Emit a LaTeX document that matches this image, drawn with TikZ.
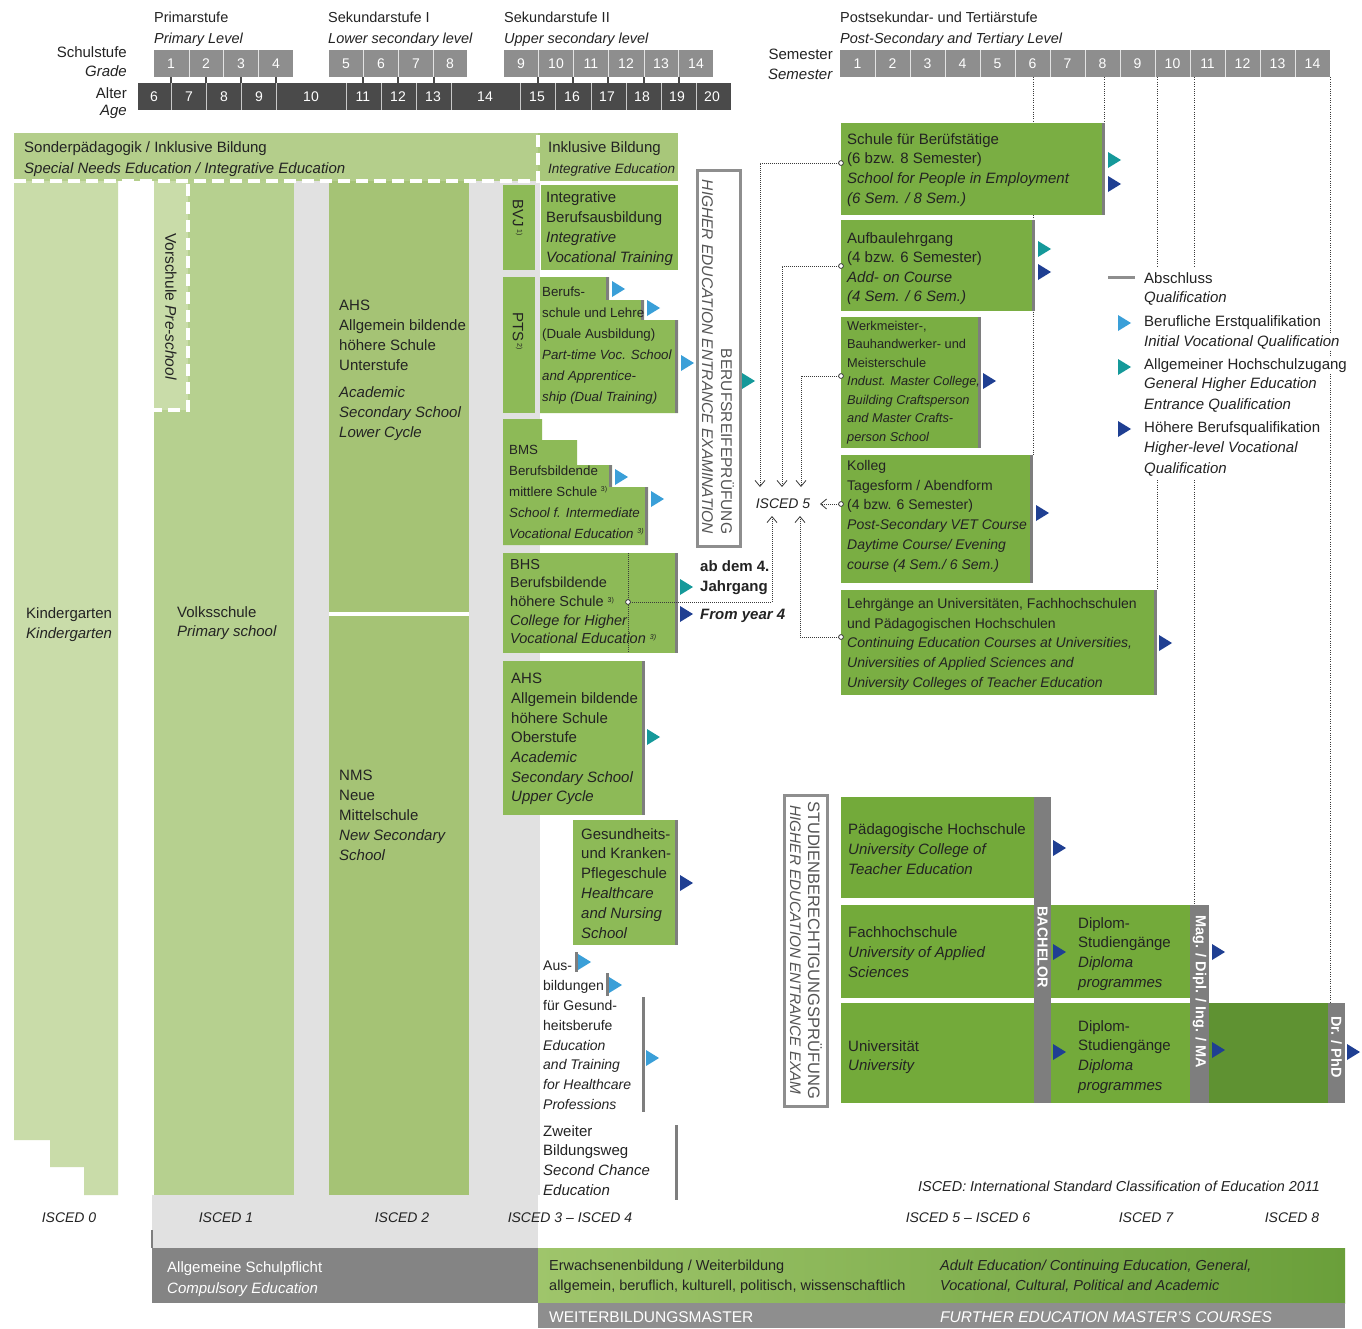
\documentclass[tikz,border=0pt]{standalone}
\usepackage{fontspec}
\setmainfont{Liberation Sans}
\usetikzlibrary{arrows.meta}
\definecolor{ink}{HTML}{232323}
\definecolor{lgray}{HTML}{E1E1E1}
\definecolor{kg}{HTML}{C9DCA9}
\definecolor{vs}{HTML}{B6D08F}
\definecolor{ahs}{HTML}{A5C375}
\definecolor{band}{HTML}{B4CE8B}
\definecolor{inkl}{HTML}{A8C77A}
\definecolor{us}{HTML}{8DBA57}
\definecolor{ps}{HTML}{7AAE43}
\definecolor{te}{HTML}{73AA3A}
\definecolor{drc}{HTML}{5F9232}
\definecolor{gb}{HTML}{7E7E7E}
\definecolor{hdr}{HTML}{8E8E8E}
\definecolor{agec}{HTML}{4A4A4A}
\definecolor{lb}{HTML}{3A9FD8}
\definecolor{tl}{HTML}{15999A}
\definecolor{db}{HTML}{1F3F92}
\definecolor{dotc}{HTML}{3A3A3A}
\definecolor{brp}{HTML}{555555}
\definecolor{adl}{HTML}{9FC56B}
\definecolor{adr}{HTML}{6A9F3A}
\newcommand\fsz[2]{\fontsize{#1}{#2}\selectfont}
\newcommand\fnm[1]{\raisebox{4.5pt}{\fontsize{7}{7}\selectfont #1}}
\newcommand\tri[3]{\fill[#3] (#1,#2-8) -- ++(13,8) -- ++(-13,8) -- cycle;}
\begin{document}
\begin{tikzpicture}[x=1pt,y=-1pt,
  tx/.style={anchor=north west,inner sep=0pt,align=left,text=ink,execute at begin node={\rule{0pt}{.73em}}},
  rt/.style={anchor=east,inner sep=0pt,text=ink,font=\fsz{15}{18}},
  wn/.style={inner sep=0pt,text=white,font=\fsz{14}{16}},
  lgd/.style={anchor=west,inner sep=1pt,fill=white,text=ink,font=\fsz{15}{18}},
  isc/.style={inner sep=0pt,text=ink,font=\fsz{14}{16}\itshape},
  dl/.style={draw=dotc,line width=1pt,dash pattern=on 1pt off 1.3pt},
  con/.style={draw=dotc,line width=0.9pt,dash pattern=on 1pt off 1pt},
  arw/.style={-{Straight Barb[length=6pt,width=10pt,line width=0.8pt]}},
  rot/.style={rotate=-90,anchor=west,inner sep=0pt},
  ring/.style={draw=dotc,fill=white,line width=0.8pt}
]
\useasboundingbox (0,0) rectangle (1362,1328);
\fill[white] (0,0) rectangle (1362,1328);

% ---------- header ----------
\node[rt] (lsch) at (127,52) {Schulstufe};
\node[rt] (lgra) at (127,71) {\textit{Grade}};
\node[rt] (lalt) at (127,93) {Alter};
\node[rt] (lage) at (127,112) {\textit{Age}};
\node[tx,font=\fsz{14.5}{21}] (hprim) at (154,12) {Primarstufe\\\textit{Primary Level}};
\node[tx,font=\fsz{14.5}{21}] (hsek1) at (328,12) {Sekundarstufe I\\\textit{Lower secondary level}};
\node[tx,font=\fsz{14.5}{21}] (hsek2) at (504,12) {Sekundarstufe II\\\textit{Upper secondary level}};
\node[tx,font=\fsz{14.5}{21}] (hpost) at (840,12) {Postsekundar- und Tertiärstufe\\\textit{Post-Secondary and Tertiary Level}};

\fill[hdr] (154,50) rectangle (293,77);
\fill[hdr] (329,50) rectangle (467,77);
\fill[hdr] (504,50) rectangle (713,77);
\foreach \x in {189,223,258,363,398,433,538,573,608,644,678}
  \draw[white!75!hdr,line width=0.8pt] (\x,50) -- (\x,77);
\foreach \x in {171,206,241,276,363,398,434,538,573,608,644,679}
  \draw[agec,line width=1.2pt] (\x,77) -- (\x,83);
\fill[agec] (138,83) rectangle (731,110);
\foreach \x in {171,206,241,276,346,381,416,451,520,555,591,626,661,696}
  \draw[white!70!agec,line width=0.8pt] (\x,83) -- (\x,110);
\foreach \x/\n in {171/1,206/2,241/3,276/4,346/5,381/6,416/7,450/8,521/9,556/10,591/11,626/12,661/13,696/14}
  \node[wn] (g\n) at (\x,64) {\n};
\foreach \x/\n in {154/6,189/7,224/8,259/9,311/10,363/11,398/12,433/13,485/14,537/15,572/16,607/17,642/18,677/19,712/20}
  \node[wn] (a\n) at (\x,97) {\n};

\node[rt] (lsem) at (833,54) {Semester};
\node[rt] (lsemi) at (833,74) {\textit{Semester}};
\fill[hdr] (840,50) rectangle (1330,77);
\foreach \k in {1,...,13}
  \draw[white!75!hdr,line width=0.8pt] ({840+35*\k},50) -- ({840+35*\k},77);
\foreach \n in {1,...,14}
  \node[wn] (s\n) at ({822.5+35*\n},64) {\n};

% semester dotted guide lines
\draw[dl] (1033,77) -- (1033,455);
\draw[dl] (1104,77) -- (1104,123);
\draw[dl] (1157,77) -- (1157,267);
\draw[dl] (1157,480) -- (1157,590);
\draw[dl] (1194,77) -- (1194,267);
\draw[dl] (1194,480) -- (1194,905);
\draw[dl] (1330,77) -- (1330,1003);

% ---------- left columns ----------
\fill[lgray] (294,181) rectangle (329,1195);
\fill[lgray] (469,181) rectangle (540,1195);
\fill[lgray] (152,1195) rectangle (538,1248);
\fill[kg] (14,181) -- (118,181) -- (118,1195) -- (84,1195) -- (84,1167) -- (50,1167) -- (50,1140) -- (14,1140) -- cycle;
\fill[vs] (154,181) rectangle (294,1195);
\fill[kg] (154,181) rectangle (188,410);
\fill[ahs] (329,181) rectangle (469,612);
\fill[ahs] (329,616) rectangle (469,1195);
\fill[band] (14,133) rectangle (538,181);
\fill[inkl] (538,133) rectangle (678,181);
\draw[white,line width=4pt,dash pattern=on 12pt off 6pt] (14,181) -- (538,181) -- (538,133);
\draw[white,line width=4pt,dash pattern=on 12pt off 6pt] (188,184) -- (188,410) -- (154,410);

% ---------- upper secondary ----------
\fill[us] (503,185) rectangle (535,270);
\fill[us] (541,185) rectangle (678,270);
\fill[us] (503,277) rectangle (535,413);
\fill[us] (540,277) -- (609,277) -- (609,300) -- (644,300) -- (644,320) -- (678,320) -- (678,413) -- (540,413) -- cycle;
\fill[gb] (606,277) rectangle (609,300);
\fill[gb] (641,300) rectangle (644,320);
\fill[gb] (675,320) rectangle (678,413);
\fill[us] (503,419) -- (542,419) -- (542,440) -- (577,440) -- (577,465) -- (612,465) -- (612,487) -- (648,487) -- (648,545) -- (503,545) -- cycle;
\fill[gb] (609,465) rectangle (612,487);
\fill[gb] (645,487) rectangle (648,545);
\fill[us] (503,553) rectangle (678,653);
\fill[gb] (675,553) rectangle (678,653);
\fill[us] (503,661) rectangle (645,815);
\fill[gb] (642,661) rectangle (645,815);
\fill[us] (573,820) rectangle (678,945);
\fill[gb] (675,820) rectangle (678,945);
\fill[gb] (575,952) rectangle (578,972);
\fill[gb] (606,973) rectangle (609,996);
\fill[gb] (642,997) rectangle (645,1112);
\fill[gb] (675,1125) rectangle (678,1200);

% exam boxes
\draw[hdr,line width=3pt,fill=white] (697,170) rectangle (740,546);
\node[rotate=-90,align=right,inner sep=0pt,text=brp,font=\fsz{15.5}{19}] (brpT) at (718,357)
  {BERUFSREIFEPRÜFUNG\\\textit{HIGHER EDUCATION ENTRANCE EXAMINATION}};
\draw[hdr,line width=3pt,fill=white] (784,795) rectangle (827,1106);
\node[rotate=-90,align=center,inner sep=0pt,text=brp,font=\fsz{15.3}{18}] (stuT) at (806,950)
  {{\fsz{16.5}{18}STUDIENBERECHTIGUNGSPRÜFUNG}\\\textit{HIGHER EDUCATION ENTRANCE EXAM}};

% ---------- post-secondary ----------
\fill[ps] (841,123) rectangle (1105,215);
\fill[gb] (1102,123) rectangle (1105,215);
\fill[ps] (841,220) rectangle (1035,311);
\fill[gb] (1032,220) rectangle (1035,311);
\fill[ps] (841,317) rectangle (981,448);
\fill[gb] (978,317) rectangle (981,448);
\fill[ps] (841,455) rectangle (1033,583);
\fill[gb] (1030,455) rectangle (1033,583);
\fill[ps] (841,590) rectangle (1157,695);
\fill[gb] (1154,590) rectangle (1157,695);

% ---------- tertiary ----------
\fill[te] (841,797) rectangle (1034,898);
\fill[te] (841,905) rectangle (1034,998);
\fill[te] (841,1003) rectangle (1034,1103);
\fill[gb] (1034,797) rectangle (1051,1103);
\fill[te] (1051,905) rectangle (1190,998);
\fill[te] (1051,1003) rectangle (1190,1103);
\fill[gb] (1190,905) rectangle (1209,1103);
\fill[drc] (1209,1003) rectangle (1328,1103);
\fill[gb] (1328,1003) rectangle (1345,1103);
\node[rot,text=white,font=\bfseries\fsz{14.5}{16}] (bach) at (1042.5,906) {BACHELOR};
\node[rot,text=white,font=\bfseries\fsz{14.5}{16}] (mag) at (1199.5,915) {Mag. / Dipl. / Ing. / MA};
\node[rot,text=white,font=\bfseries\fsz{14.5}{16}] (drphd) at (1336.5,1016) {Dr. / PhD};

% ---------- connectors ----------
\coordinate (sfbL) at (841,163);
\coordinate (aufL) at (841,266);
\coordinate (werL) at (841,376);
\coordinate (kolL) at (841,504);
\coordinate (lehL) at (841,637);
\coordinate (bhsP) at (628,602);
\coordinate (bhsT) at (628,553);
\coordinate (bhsB) at (628,653);
\coordinate (isA) at (760,487);
\coordinate (isB) at (782,487);
\coordinate (isC) at (801,487);
\coordinate (isD) at (820,504);
\coordinate (isE) at (800,516);
\coordinate (isF) at (772,516);
\node[isc] (isc5) at (783,504) {ISCED 5};
\draw[con] (bhsT) -- (bhsB);
\draw[con,arw] (sfbL) -| (isA);
\draw[con,arw] (aufL) -| (isB);
\draw[con,arw] (werL) -| (isC);
\draw[con,arw] (kolL) -- (isD);
\draw[con,arw] (lehL) -| (isE);
\draw[con,arw] (bhsP) -| (isF);
\foreach \c in {sfbL,aufL,werL,kolL,lehL,bhsP}
  \draw[ring] (\c) circle[radius=2.4pt];

% ---------- triangles ----------
\tri{612}{289}{lb}
\tri{647}{308}{lb}
\tri{681}{363}{lb}
\tri{615}{477}{lb}
\tri{651}{499}{lb}
\tri{578}{962}{lb}
\tri{609}{985}{lb}
\tri{646}{1058}{lb}
\tri{1118}{323}{lb}
\tri{680}{587}{tl}
\tri{647}{737}{tl}
\tri{742}{381}{tl}
\tri{1108}{160}{tl}
\tri{1038}{249}{tl}
\tri{1118}{367}{tl}
\tri{680}{614}{db}
\tri{680}{883}{db}
\tri{1108}{184}{db}
\tri{1038}{272}{db}
\tri{983}{381}{db}
\tri{1036}{513}{db}
\tri{1159}{643}{db}
\tri{1053}{848}{db}
\tri{1053}{952}{db}
\tri{1053}{1052}{db}
\tri{1212}{952}{db}
\tri{1212}{1050}{db}
\tri{1347}{1052}{db}
\tri{1118}{429}{db}

% ---------- texts ----------
\node[tx,font=\fsz{15}{21}] (sonder) at (24,141) {Sonderpädagogik / Inklusive Bildung\\\textit{Special Needs Education / Integrative Education}};
\node[tx,font=\fsz{15}{21}] (inklT) at (548,141) {Inklusive Bildung\\{\fsz{13.5}{21}\textit{Integrative Education}}};
\node[tx,font=\fsz{15}{20}] (kinder) at (26,607) {Kindergarten\\\textit{Kindergarten}};
\node[tx,font=\fsz{15}{19}] (volks) at (177,606) {Volksschule\\\textit{Primary school}};
\node[rot,text=ink,font=\fsz{15.5}{18}] (vorsch) at (171,233) {Vorschule \textit{Pre-school}};
\node[tx,font=\fsz{15}{20}] (ahsu) at (339,300) {AHS\\Allgemein bildende\\höhere Schule\\Unterstufe\\[7pt]\textit{Academic}\\\textit{Secondary School}\\\textit{Lower Cycle}};
\node[tx,font=\fsz{15}{20}] (nms) at (339,770) {NMS\\Neue\\Mittelschule\\\textit{New Secondary}\\\textit{School}};
\node[rot,text=ink,font=\fsz{15}{18}] (bvj) at (518,199) {BVJ\,\fnm{1)}};
\node[rot,text=ink,font=\fsz{15}{18}] (pts) at (518,312) {PTS\,\fnm{2)}};
\node[tx,font=\fsz{15}{20}] (intb) at (546,191) {Integrative\\Berufsausbildung\\\textit{Integrative}\\\textit{Vocational Training}};
\node[tx,font=\fsz{13.3}{21}] (bsch) at (542,287) {Berufs-\\schule und Lehre\\(Duale Ausbildung)\\\textit{Part-time Voc. School}\\\textit{and Apprentice-}\\\textit{ship (Dual Training)}};
\node[tx,font=\fsz{13.3}{21}] (bms) at (509,445) {BMS\\Berufsbildende\\mittlere Schule \fnm{3)}\\\textit{School f. Intermediate}\\\textit{Vocational Education \fnm{3)}}};
\node[tx,font=\fsz{14.5}{18.6}] (bhs) at (510,559) {BHS\\Berufsbildende\\höhere Schule \fnm{3)}\\\textit{College for Higher}\\\textit{Vocational Education \fnm{3)}}};
\node[tx,font=\bfseries\fsz{15}{20}] (abdem) at (700,560) {ab dem 4.\\Jahrgang};
\node[tx,font=\bfseries\itshape\fsz{15}{20}] (fromy) at (700,608) {From year 4};
\node[tx,font=\fsz{15}{19.7}] (ahso) at (511,673) {AHS\\Allgemein bildende\\höhere Schule\\Oberstufe\\\textit{Academic}\\\textit{Secondary School}\\\textit{Upper Cycle}};
\node[tx,font=\fsz{15}{19.8}] (ges) at (581,828) {Gesundheits-\\und Kranken-\\Pflegeschule\\\textit{Healthcare}\\\textit{and Nursing}\\\textit{School}};
\node[tx,font=\fsz{14}{19.8}] (ausb) at (543,961) {Aus-\\bildungen\\für Gesund-\\heitsberufe\\\textit{Education}\\\textit{and Training}\\\textit{for Healthcare}\\\textit{Professions}};
\node[tx,font=\fsz{15}{19.7}] (zweit) at (543,1125) {Zweiter\\Bildungsweg\\\textit{Second Chance}\\\textit{Education}};

\node[tx,font=\fsz{15}{19.7}] (sfb) at (847,133) {Schule für Berüfstätige\\(6 bzw. 8 Semester)\\\textit{School for People in Employment}\\\textit{(6 Sem. / 8 Sem.)}};
\node[tx,font=\fsz{15}{19.5}] (aufb) at (847,232) {Aufbaulehrgang\\(4 bzw. 6 Semester)\\\textit{Add- on Course}\\\textit{(4 Sem. / 6 Sem.)}};
\node[tx,font=\fsz{12.8}{18.5}] (werk) at (847,321) {Werkmeister-,\\Bauhandwerker- und\\Meisterschule\\\textit{Indust. Master College,}\\\textit{Building Craftsperson}\\\textit{and Master Crafts-}\\\textit{person School}};
\node[tx,font=\fsz{14}{19.8}] (koll) at (847,460) {Kolleg\\Tagesform / Abendform\\(4 bzw. 6 Semester)\\\textit{Post-Secondary VET Course}\\\textit{Daytime Course/ Evening}\\\textit{course (4 Sem./ 6 Sem.)}};
\node[tx,font=\fsz{14}{19.7}] (lehr) at (847,598) {Lehrgänge an Universitäten, Fachhochschulen\\und Pädagogischen Hochschulen\\\textit{Continuing Education Courses at Universities,}\\\textit{Universities of Applied Sciences and}\\\textit{University Colleges of Teacher Education}};

\node[tx,font=\fsz{15}{20}] (paed) at (848,823) {Pädagogische Hochschule\\\textit{University College of}\\\textit{Teacher Education}};
\node[tx,font=\fsz{15}{20}] (fh) at (848,926) {Fachhochschule\\\textit{University of Applied}\\\textit{Sciences}};
\node[tx,font=\fsz{15}{19}] (uni) at (848,1040) {Universität\\\textit{University}};
\node[tx,font=\fsz{15}{19.7}] (dipfh) at (1078,917) {Diplom-\\Studiengänge\\\textit{Diploma}\\\textit{programmes}};
\node[tx,font=\fsz{15}{19.7}] (dipuni) at (1078,1020) {Diplom-\\Studiengänge\\\textit{Diploma}\\\textit{programmes}};

% ---------- legend ----------
\draw[hdr,line width=3pt] (1108,277) -- (1135,277);
\node[lgd] (lg1) at (1143,278) {Abschluss};
\node[lgd] (lg2) at (1143,298) {\textit{Qualification}};
\node[lgd] (lg3) at (1143,323) {Berufliche Erstqualifikation};
\node[lgd] (lg4) at (1143,342) {\textit{Initial Vocational Qualification}};
\node[lgd] (lg5) at (1143,366) {Allgemeiner Hochschulzugang};
\node[lgd] (lg6) at (1143,385) {\textit{General Higher Education}};
\node[lgd] (lg7) at (1143,405) {\textit{Entrance Qualification}};
\node[lgd] (lg8) at (1143,429) {Höhere Berufsqualifikation};
\node[lgd] (lg9) at (1143,449) {\textit{Higher-level Vocational}};
\node[lgd] (lg10) at (1143,469) {\textit{Qualification}};

% ---------- ISCED labels ----------
\node[isc,anchor=east,font=\fsz{14.4}{16}\itshape] (iscnote) at (1320,1186) {ISCED: International Standard Classification of Education 2011};
\node[isc] (i0) at (69,1218) {ISCED 0};
\node[isc] (i1) at (226,1218) {ISCED 1};
\node[isc] (i2) at (402,1218) {ISCED 2};
\node[isc] (i34) at (570,1218) {ISCED 3 – ISCED 4};
\node[isc] (i56) at (968,1218) {ISCED 5 – ISCED 6};
\node[isc] (i7) at (1146,1218) {ISCED 7};
\node[isc] (i8) at (1292,1218) {ISCED 8};

% ---------- bottom bands ----------
\draw[gb,line width=2pt] (152,1230) -- (152,1248);
\fill[gb!95!white] (152,1248) rectangle (538,1303);
\node[tx,text=white,font=\fsz{15}{21}] (compul) at (167,1261) {Allgemeine Schulpflicht\\\textit{Compulsory Education}};
\shade[left color=adl,right color=adr] (538,1248) rectangle (1345,1303);
\fill[hdr] (538,1303) rectangle (1345,1328);
\node[tx,font=\fsz{14.5}{20}] (erw) at (549,1260) {Erwachsenenbildung / Weiterbildung\\allgemein, beruflich, kulturell, politisch, wissenschaftlich};
\node[tx,font=\fsz{14.5}{20}\itshape] (adult) at (940,1260) {Adult Education/ Continuing Education, General,\\Vocational, Cultural, Political and Academic};
\node[anchor=west,inner sep=0pt,text=white,font=\fsz{15.5}{17}] (wbm) at (549,1317) {WEITERBILDUNGSMASTER};
\node[anchor=west,inner sep=0pt,text=white,font=\fsz{15.5}{17}\itshape] (fem) at (940,1317) {FURTHER EDUCATION MASTER'S COURSES};
\end{tikzpicture}
\end{document}
